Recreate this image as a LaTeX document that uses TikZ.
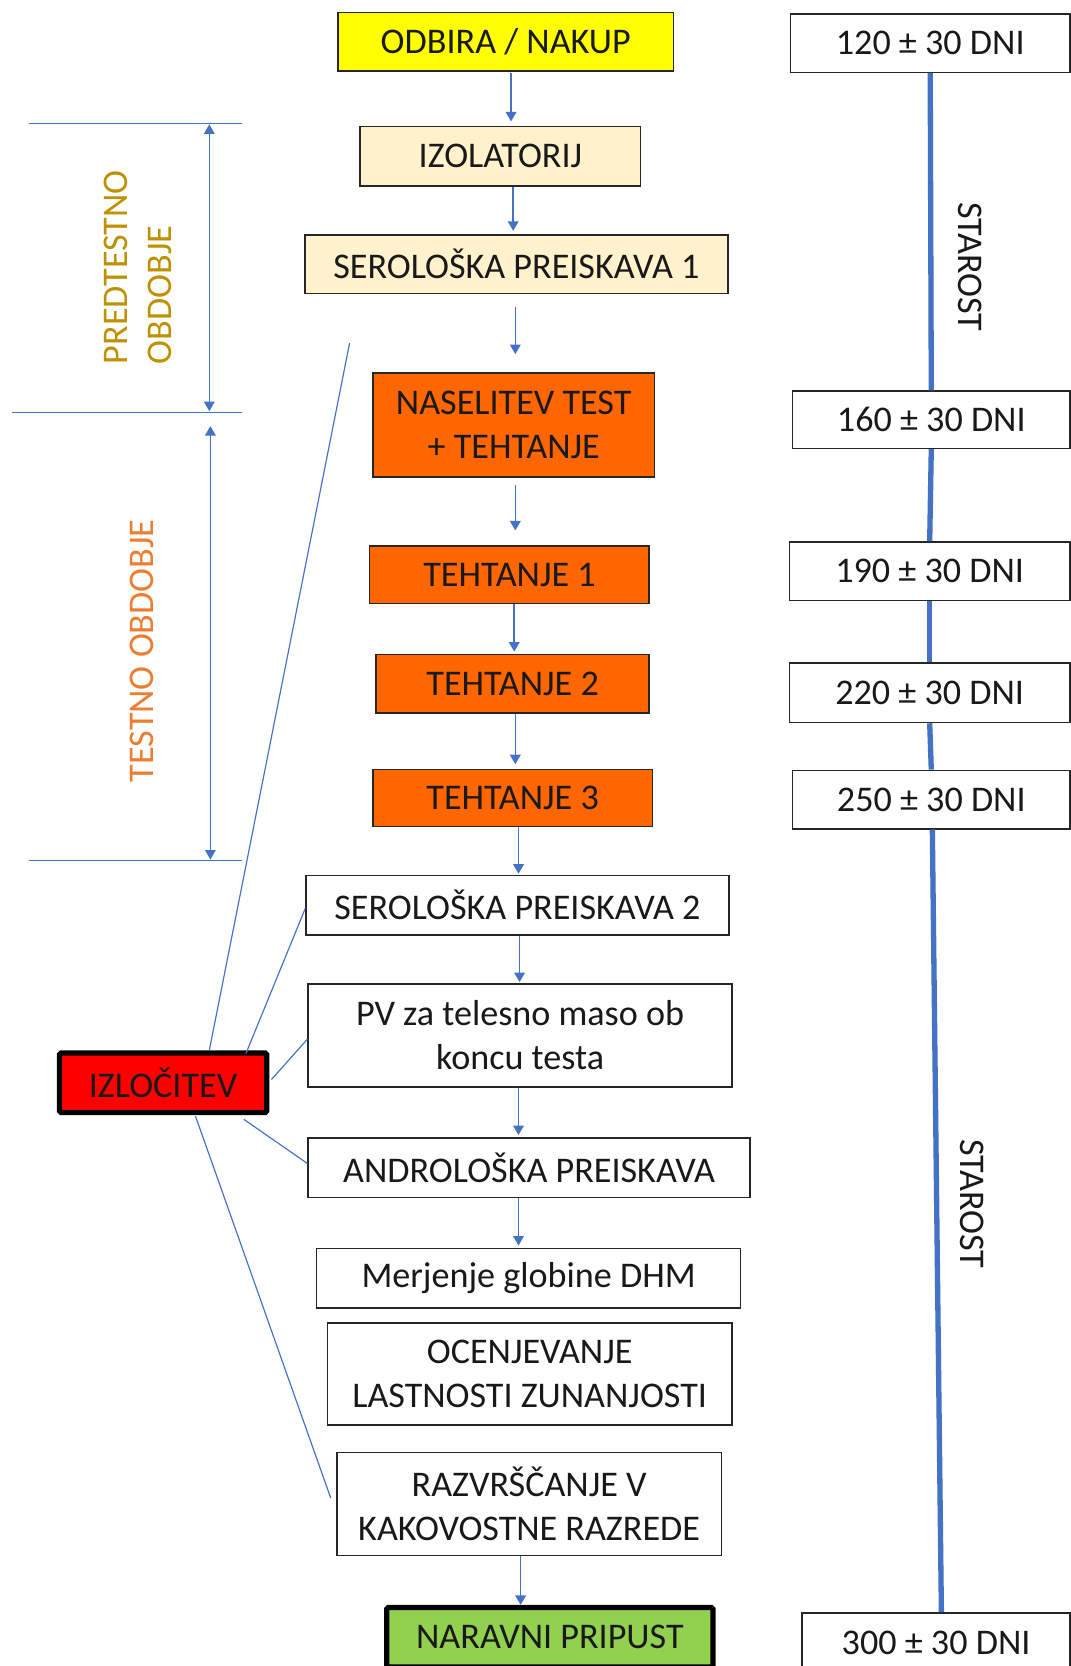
\documentclass[tikz,border=0pt]{standalone}
\usepackage{fontspec}
\setmainfont{Carlito}
\usetikzlibrary{arrows.meta,calc}
\definecolor{lineblue}{HTML}{4472C4}
\definecolor{yel}{HTML}{FFFF00}
\definecolor{beige}{HTML}{FFF2CC}
\definecolor{orng}{HTML}{FF6600}
\definecolor{grn}{HTML}{92D050}
\definecolor{gold}{HTML}{BF9000}
\definecolor{txtorange}{HTML}{ED7D31}
\newcommand\flowarr[5]{%
  \coordinate (fx) at (#3,0);
  \draw[flow] ($(fx |- #1.south)+(0,#4)$) -- ($(fx |- #2.north)+(0,-#5)$);}
\begin{document}
\begin{tikzpicture}[x=1pt,y=-1pt,
  every node/.style={font=\fontsize{34}{41.5}\selectfont, text=black!90},
  box/.style={draw=black!85, line width=1.4pt, inner sep=0pt, align=center, rectangle},
  thickbox/.style={draw=black, line width=5pt, rounded corners=1.5pt, inner sep=0pt, align=center, rectangle},
  flow/.style={draw=lineblue, line width=1.5pt, -{Triangle[width=10pt,length=9pt]}},
  dim/.style={draw=lineblue, line width=1.3pt, {Triangle[width=10pt,length=9pt]}-{Triangle[width=10pt,length=9pt]}},
  thin/.style={draw=lineblue, line width=1.1pt},
  timeline/.style={draw=lineblue, line width=5pt}]
\useasboundingbox (0,0) rectangle (1008,1568);
\fill[white] (0,0) rectangle (1008,1568);

% main flow
\node[box, fill=yel, minimum width=316pt, minimum height=55pt] (odbira) at (476,39.5) {ODBIRA / NAKUP};
\node[box, fill=beige, minimum width=264pt, minimum height=56pt] (izol) at (471,147) {IZOLATORIJ};
\node[box, fill=beige, minimum width=398pt, minimum height=55pt] (ser1) at (486,248.5) {SEROLOŠKA PREISKAVA 1};
\node[box, fill=orng, minimum width=265pt, minimum height=98pt] (nas) at (483.5,400) {NASELITEV TEST\\+ TEHTANJE};
\node[box, fill=orng, minimum width=263pt, minimum height=54pt] (t1) at (479.5,541) {TEHTANJE 1};
\node[box, fill=orng, minimum width=257pt, minimum height=55pt] (t2) at (482.5,643.5) {TEHTANJE 2};
\node[box, fill=orng, minimum width=263pt, minimum height=54pt] (t3) at (482.5,751) {TEHTANJE 3};
\node[box, fill=white, minimum width=398pt, minimum height=56pt] (ser2) at (487,852) {SEROLOŠKA PREISKAVA 2};
\node[box, fill=white, minimum width=399pt, minimum height=97pt] (pv) at (489.5,974.5) {PV za telesno maso ob\\koncu testa};
\node[box, fill=white, minimum width=416pt, minimum height=56pt] (andro) at (498,1099) {ANDROLOŠKA PREISKAVA};
\node[box, fill=white, minimum width=399pt, minimum height=56pt] (merj) at (497.5,1203) {Merjenje globine DHM};
\node[box, fill=white, minimum width=381pt, minimum height=96pt] (ocen) at (498.5,1293) {OCENJEVANJE\\LASTNOSTI ZUNANJOSTI};
\node[box, fill=white, minimum width=362pt, minimum height=97pt] (razv) at (498,1415.5) {RAZVRŠČANJE V\\KAKOVOSTNE RAZREDE};
\node[thickbox, fill=grn, minimum width=307pt, minimum height=56pt] (narav) at (517.5,1541) {NARAVNI PRIPUST};
\node[thickbox, fill=red, minimum width=195pt, minimum height=56pt] (izloc) at (153.5,1019) {IZLOČITEV};

% flow arrows
\flowarr{odbira}{izol}{481}{1}{4}
\flowarr{izol}{ser1}{483}{0}{3}
\flowarr{ser1}{nas}{485}{12}{17}
\flowarr{nas}{t1}{485}{7}{14}
\flowarr{t1}{t2}{484}{0}{2}
\flowarr{t2}{t3}{485}{0}{4}
\flowarr{t3}{ser2}{488}{0}{1}
\flowarr{ser2}{pv}{489}{0}{1}
\flowarr{pv}{andro}{488}{0}{2}
\flowarr{andro}{merj}{488}{0}{2}
\flowarr{razv}{narav}{490}{0}{0}

% age boxes
\node[box, fill=white, minimum width=263pt, minimum height=55pt] (d120) at (875.5,40.5) {120 ± 30 DNI};
\node[box, fill=white, minimum width=261pt, minimum height=54pt] (d160) at (876.5,395) {160 ± 30 DNI};
\node[box, fill=white, minimum width=264pt, minimum height=55pt] (d190) at (875,537.5) {190 ± 30 DNI};
\node[box, fill=white, minimum width=264pt, minimum height=56pt] (d220) at (875,652) {220 ± 30 DNI};
\node[box, fill=white, minimum width=261pt, minimum height=55pt] (d250) at (876.5,752.5) {250 ± 30 DNI};
\node[box, fill=white, minimum width=252pt, minimum height=56pt] (d300) at (881,1546) {300 ± 30 DNI};

\draw[timeline] (d120.south) -- (d160.north);
\draw[timeline] (d160.south) -- (d190.north);
\draw[timeline] (d190.south) -- (d220.north);
\draw[timeline] (d220.south) -- (d250.north);
\draw[timeline] ($(d250.south)+(1,0)$) -- ($(d300.north)+(5,0)$);

\node[rotate=-90] (star1) at (913,251) {STAROST};
\node[rotate=-90] (star2) at (915,1133) {STAROST};

% period dimensions
\coordinate (h1a) at (27,116);  \coordinate (h1b) at (228,116);
\coordinate (h2a) at (11,388);  \coordinate (h2b) at (228,388);
\coordinate (h3a) at (27,810);  \coordinate (h3b) at (228,810);
\draw[thin] (h1a) -- (h1b);
\draw[thin] (h2a) -- (h2b);
\draw[thin] (h3a) -- (h3b);
\coordinate (p1t) at (197,117); \coordinate (p1b) at (197,387);
\coordinate (p2t) at (198,401); \coordinate (p2b) at (198,809);
\draw[dim] (p1t) -- (p1b);
\draw[dim] (p2t) -- (p2b);
\node[rotate=90, align=left, text=gold] (pred) at (130,251.5) {PREDTESTNO\\OBDOBJE};
\node[rotate=90, text=txtorange] (test) at (134,612.5) {TESTNO OBDOBJE};

% culling lines
\coordinate (cullend) at (329,323);
\draw[thin] ($(izloc.north)+(43.5,0)$) -- (cullend);
\draw[thin] ($(izloc.north east)+(-22,3)$) -- ($(ser2.west)+(0,3)$);
\draw[thin] ($(izloc.east)+(2,-3)$) -- ($(pv.west)+(0,3.5)$);
\draw[thin] ($(izloc.south east)+(-24,4)$) -- ($(andro.west)+(0,-4)$);
\draw[thin] ($(izloc.south)+(30.5,1)$) -- ($(razv.west)+(-5,-5.5)$);
\end{tikzpicture}
\end{document}
